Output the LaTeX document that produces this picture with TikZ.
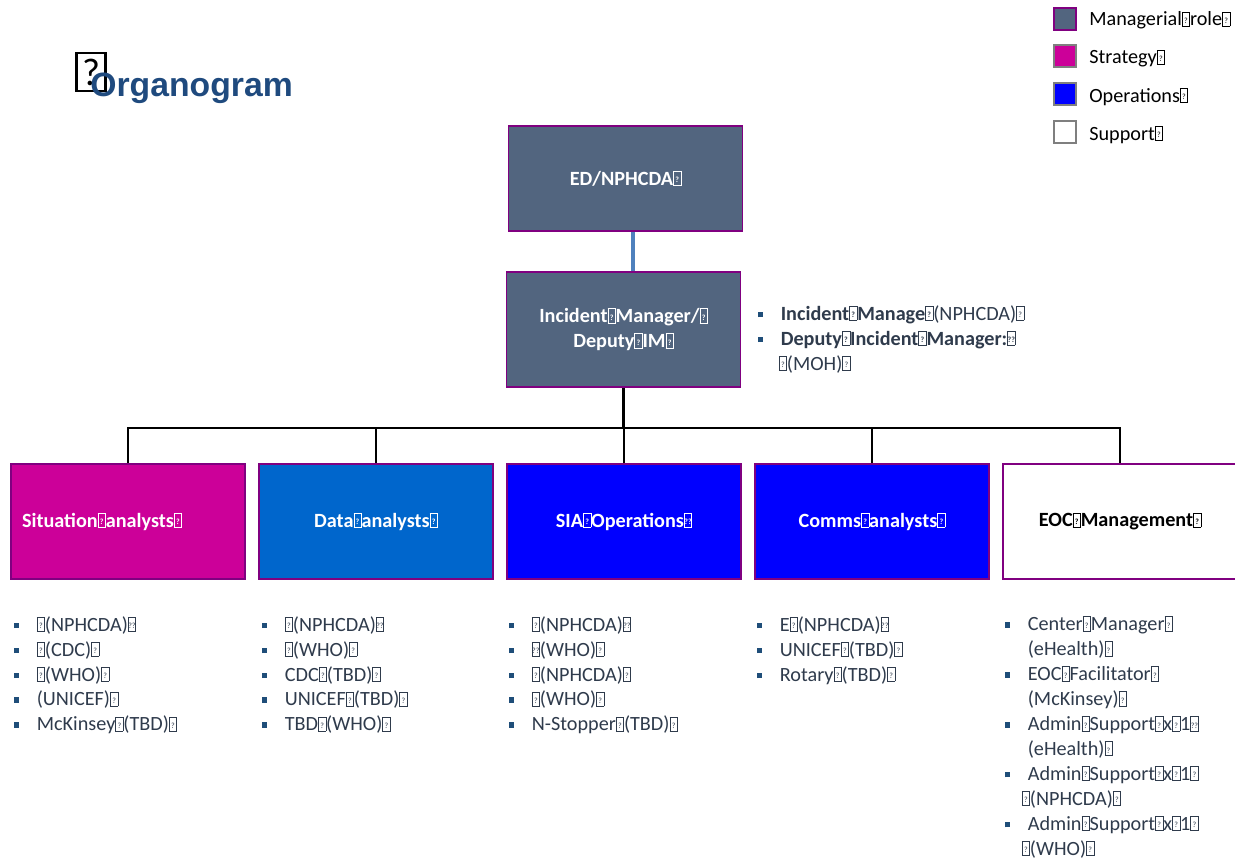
\documentclass[tikz,border=0pt]{standalone}
\usepackage{fontspec}
\setmainfont{Carlito}
\newfontfamily\arialfont{Liberation Sans}
\definecolor{slate}{HTML}{52657F}
\definecolor{rolepurple}{HTML}{800080}
\definecolor{keygrey}{HTML}{7F7F7F}
\definecolor{stratpink}{HTML}{CC0099}
\definecolor{datablue}{HTML}{0066CC}
\definecolor{opsblue}{HTML}{0000FF}
\definecolor{steelblue}{HTML}{4F81BD}
\definecolor{titleblue}{HTML}{1F4A7E}
\definecolor{listgrey}{HTML}{2F3B4C}
\definecolor{bulblue}{HTML}{1F4E79}
\newcommand\tofu[1][?]{{\setlength\fboxsep{0pt}\setlength\fboxrule{0.35pt}\fbox{\makebox[0.34em]{\rule{0pt}{0.68em}\raisebox{0.12em}{\fontsize{4.5}{4.5}\selectfont #1}}}}}
\newcommand\sqbul{\makebox[0.46cm][l]{\textcolor{bulblue}{\rule[0.06cm]{0.11cm}{0.11cm}}}}
\begin{document}
\begin{tikzpicture}[x=0.02cm,y=-0.02cm,
every node/.style={font=\fontsize{11.5}{14.2}\selectfont},
role/.style={draw=rolepurple,line width=1.1pt,minimum width=4.68cm,minimum height=2.3cm,text=white,font=\fontsize{11.5}{14.2}\selectfont\bfseries,align=center},
link/.style={line width=1.2pt},
key/.style={draw=keygrey,line width=1.1pt,minimum size=0.44cm,inner sep=0},
keytext/.style={anchor=west,inner sep=0},
list/.style={anchor=north west,inner sep=0,align=left,text=listgrey}]
\useasboundingbox (0,0) rectangle (1235,860);
\node (qmark) at (91,72)[draw,line width=1.2pt,minimum width=0.58cm,minimum height=0.76cm,inner sep=0,font=\fontsize{22}{22}\selectfont]{?};
\node (title) at (90,96)[anchor=base west,inner sep=0,text=titleblue,font=\arialfont\bfseries\fontsize{19.2}{22}\selectfont]{Organogram};
\node (kman) at (1065,19)[key,draw=rolepurple,fill=slate]{};
\node (kstr) at (1065,56)[key,fill=stratpink]{};
\node (kops) at (1065,94)[key,fill=opsblue]{};
\node (ksup) at (1065,132)[key,fill=white]{};
\node (tman) at (1089,20.5)[keytext]{Managerial\tofu{}role\tofu};
\node (tstr) at (1089,58.5)[keytext]{Strategy\tofu};
\node (tops) at (1089,96.5)[keytext]{Operations\tofu};
\node (tsup) at (1089,134.5)[keytext]{Support\tofu};
\node (ED) at (625.5,178.5)[role,fill=slate,minimum height=2.1cm]{ED/NPHCDA\tofu};
\node (IM) at (623.5,329.5)[role,fill=slate]{\raisebox{-0.06cm}{Incident\tofu Manager/\tofu}\\\raisebox{-0.06cm}{Deputy\tofu{}IM\tofu}};
\draw[link,draw=steelblue,line width=2pt] ([xshift=0.15cm]ED.south) -- ([xshift=0.15cm]ED.south |- IM.north);
\node (sit) at (128,521.5)[role,fill=stratpink,text width=4.24cm,inner xsep=0.22cm,align=left]{Situation\tofu{}analysts\tofu};
\node (dat) at (376,521.5)[role,fill=datablue]{Data\tofu{}analysts\tofu};
\node (sia) at (624,521.5)[role,fill=opsblue]{SIA\tofu Operations\tofu[??]};
\node (com) at (872,521.5)[role,fill=opsblue]{Comms\tofu{}analysts\tofu};
\node (eoc) at (1120,521.5)[role,fill=white,text=black]{EOC\tofu Management\tofu};
\coordinate (bus) at (623.5,428);
\draw[link] (IM.south) -- (bus);
\foreach \b in {sit,dat,sia,com,eoc}
  \draw[link] (\b.north) |- (bus);
\node (imlist) at (757.5,305)[list]{\sqbul\textbf{Incident\tofu Manage\tofu}(NPHCDA)\tofu\\
\sqbul\textbf{Deputy\tofu Incident\tofu Manager:\tofu[??]}\\
\hspace*{0.42cm}\tofu(MOH)\tofu};
\node (sitlist) at (13.5,616)[list]{\sqbul\tofu(NPHCDA)\tofu[??]\\
\sqbul\tofu(CDC)\tofu\\
\sqbul\tofu(WHO)\tofu\\
\sqbul(UNICEF)\tofu\\
\sqbul McKinsey\tofu(TBD)\tofu};
\node (datlist) at (261.5,616)[list]{\sqbul\tofu(NPHCDA)\tofu[??]\\
\sqbul\tofu(WHO)\tofu\\
\sqbul CDC\tofu(TBD)\tofu\\
\sqbul UNICEF\tofu(TBD)\tofu\\
\sqbul TBD\tofu(WHO)\tofu};
\node (sialist) at (508.5,616)[list]{\sqbul\tofu(NPHCDA)\tofu[??]\\
\sqbul\tofu[??](WHO)\tofu\\
\sqbul\tofu(NPHCDA)\tofu\\
\sqbul\tofu(WHO)\tofu\\
\sqbul N-Stopper\tofu(TBD)\tofu};
\node (comlist) at (756.5,616)[list]{\sqbul E\tofu(NPHCDA)\tofu[??]\\
\sqbul UNICEF\tofu(TBD)\tofu\\
\sqbul Rotary\tofu(TBD)\tofu};
\node (eoclist) at (1004.5,616)[list]{\sqbul Center\tofu Manager\tofu\\
\hspace*{0.46cm}(eHealth)\tofu\\
\sqbul EOC\tofu Facilitator\tofu\\
\hspace*{0.46cm}(McKinsey)\tofu\\
\sqbul Admin\tofu Support\tofu x\tofu 1\tofu[??]\\
\hspace*{0.46cm}(eHealth)\tofu\\
\sqbul Admin\tofu Support\tofu x\tofu 1\tofu\\
\hspace*{0.34cm}\tofu(NPHCDA)\tofu\\
\sqbul Admin\tofu Support\tofu x\tofu 1\tofu\\
\hspace*{0.34cm}\tofu(WHO)\tofu};
\end{tikzpicture}
\end{document}
